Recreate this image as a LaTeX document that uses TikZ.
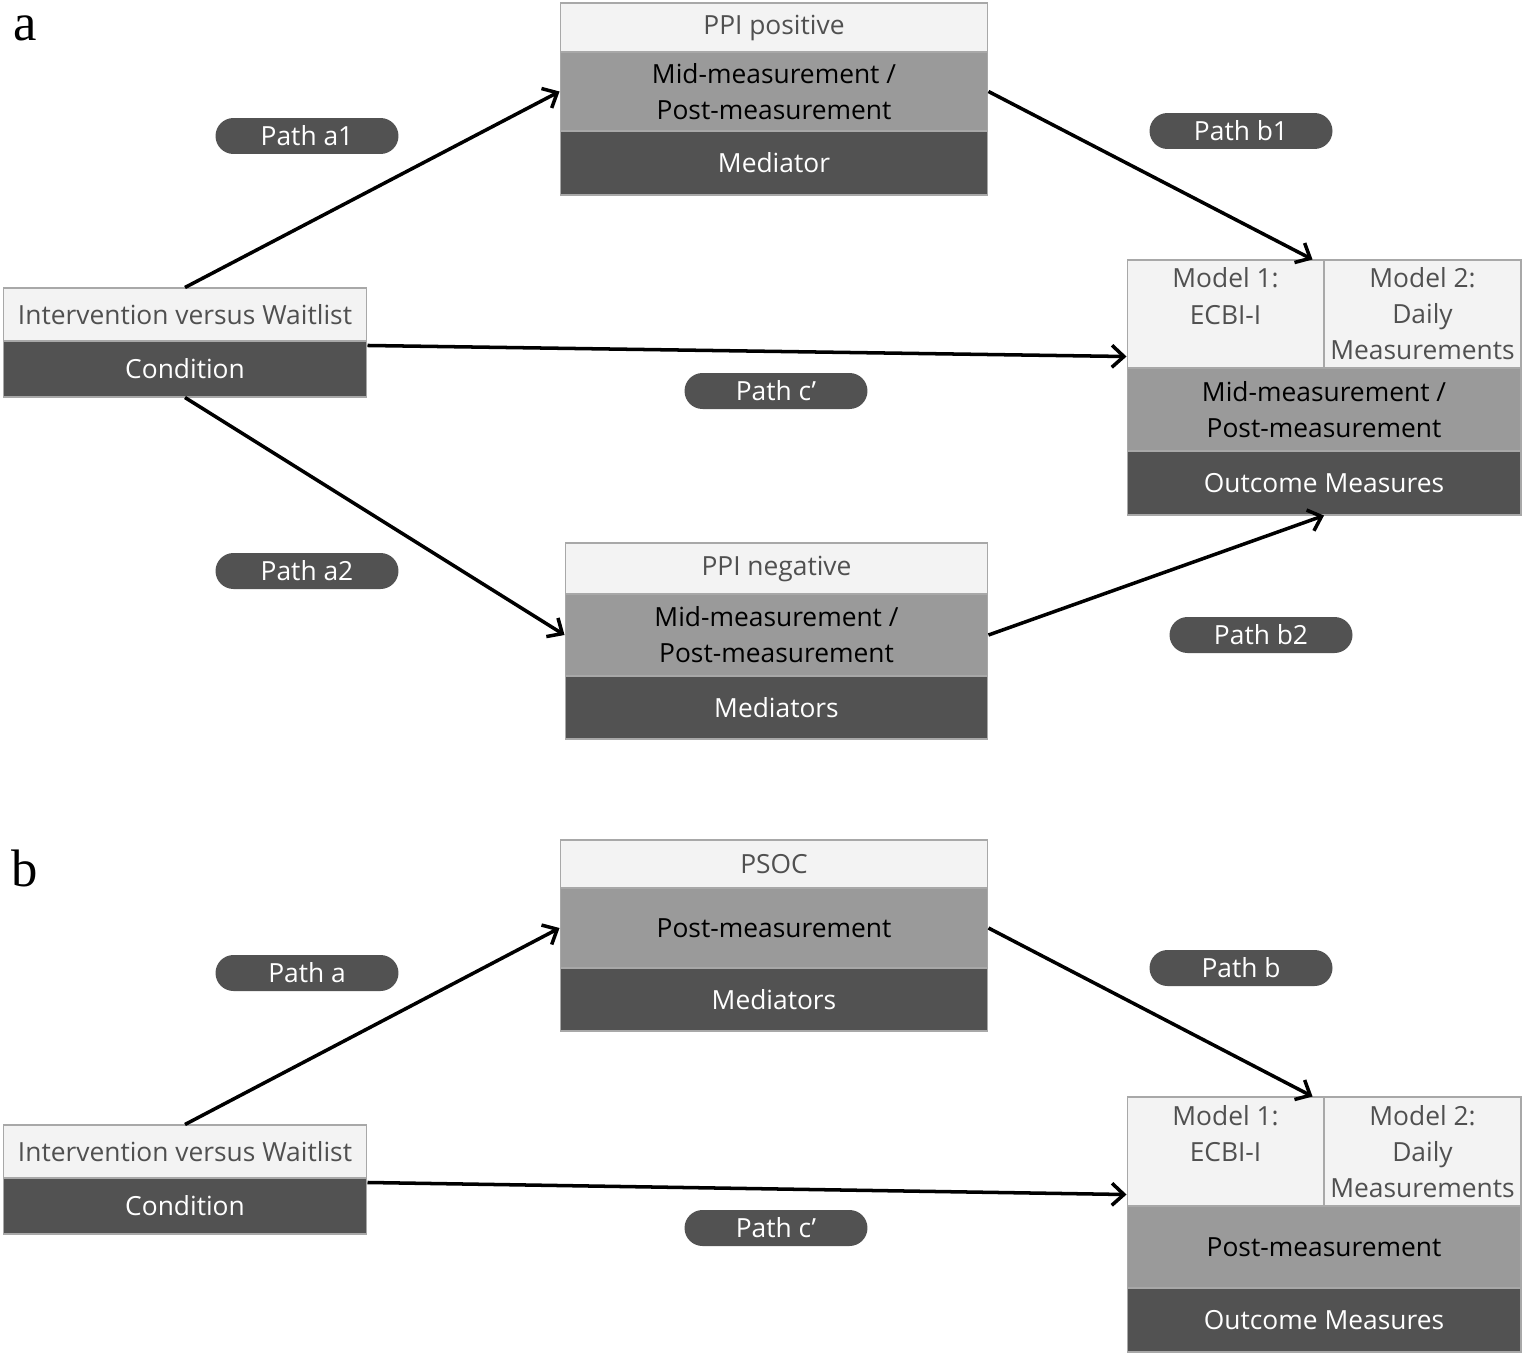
\documentclass[tikz,border=0pt]{standalone}
\usepackage{fontspec}
\setmainfont{Open Sans}
\newfontfamily\lblfont{Liberation Serif}
\usepackage{tikz}
\usetikzlibrary{arrows.meta,positioning}
\definecolor{boxlite}{HTML}{F3F3F3}
\definecolor{boxmid}{HTML}{9A9A9A}
\definecolor{boxdark}{HTML}{525252}
\definecolor{edgegray}{HTML}{A8A8A8}
\definecolor{txtgray}{HTML}{505050}
\tikzset{
  band/.style  ={rectangle,draw=edgegray,line width=0.6pt,inner sep=0pt,align=center,font=\fontsize{15}{20.5}\selectfont},
  lite/.style  ={band,fill=boxlite,text=txtgray},
  midb/.style  ={band,fill=boxmid,text=black},
  dark/.style  ={band,fill=boxdark,text=white},
  pill/.style  ={rectangle,rounded corners=0.36cm,fill=boxdark,text=white,minimum width=3.66cm,minimum height=0.72cm,inner sep=0pt,font=\fontsize{15}{17}\selectfont},
  lbl/.style   ={inner sep=0pt,font=\lblfont\fontsize{30}{32}\selectfont},
  arr/.style   ={-{Straight Barb[length=2.4mm,width=4.4mm]},line width=2pt},
}

\begin{document}
\begin{tikzpicture}[x=0.02cm,y=-0.02cm]
  \useasboundingbox (0,0) rectangle (1524,1355);
  % panel a
  \node[lbl] (la) at (25,28) {a};
  \node[lite,minimum width=7.28cm,minimum height=1.06cm] (cA)  at (185,314.5) {Intervention versus Waitlist};
  \node[dark,minimum width=7.28cm,minimum height=1.12cm] (cAd) at (185,369) {Condition};
  \node[lite,minimum width=8.56cm,minimum height=0.98cm] (mA)  at (774,27.5) {PPI positive};
  \node[midb,minimum width=8.56cm,minimum height=1.58cm] (mAm) at (774,91.5) {Mid-measurement /\\Post-measurement};
  \node[dark,minimum width=8.56cm,minimum height=1.28cm] (mAd) at (774,163) {Mediator};
  \node[lite,minimum width=3.94cm,minimum height=2.16cm] (oA1) at (1225.5,314) {Model 1:\\ECBI-I\\\phantom{M}};
  \node[lite,minimum width=3.94cm,minimum height=2.16cm] (oA2) at (1422.5,314) {Model 2:\\Daily\\Measurements};
  \node[midb,minimum width=7.88cm,minimum height=1.66cm] (oAm) at (1324,409.5) {Mid-measurement /\\Post-measurement};
  \node[dark,minimum width=7.88cm,minimum height=1.28cm] (oAd) at (1324,483) {Outcome Measures};
  \node[lite,minimum width=8.46cm,minimum height=1.02cm] (nA)  at (776.5,568.5) {PPI negative};
  \node[midb,minimum width=8.46cm,minimum height=1.64cm] (nAm) at (776.5,635) {Mid-measurement /\\Post-measurement};
  \node[dark,minimum width=8.46cm,minimum height=1.26cm] (nAd) at (776.5,707.5) {Mediators};
  \node[pill] (pa1) at (307,136) {Path a1};
  \node[pill] (pb1) at (1241,131) {Path b1};
  \node[pill] (pcA) at (776,391) {Path c’};
  \node[pill] (pa2) at (307,571) {Path a2};
  \node[pill] (pb2) at (1261,635) {Path b2};
  \draw[arr] (cA.north) -- (mAm.west);
  \draw[arr] (mAm.east) -- ([xshift=-0.24cm]oA1.north east);
  \draw[arr] ([yshift=-0.1cm]cAd.north east) -- ([yshift=0.24cm]oA1.south west);
  \draw[arr] (cAd.south) -- (nAm.west);
  \draw[arr] (nAm.east) -- (oAd.south);
  % panel b
  \node[lbl] (lb) at (25,868) {b};
  \node[lite,minimum width=7.28cm,minimum height=1.06cm] (cB)  at (185,1151.5) {Intervention versus Waitlist};
  \node[dark,minimum width=7.28cm,minimum height=1.12cm] (cBd) at (185,1206) {Condition};
  \node[lite,minimum width=8.56cm,minimum height=0.96cm] (mB)  at (774,864) {PSOC};
  \node[midb,minimum width=8.56cm,minimum height=1.60cm] (mBm) at (774,928) {Post-measurement};
  \node[dark,minimum width=8.56cm,minimum height=1.26cm] (mBd) at (774,999.5) {Mediators};
  \node[lite,minimum width=3.94cm,minimum height=2.18cm] (oB1) at (1225.5,1151.5) {Model 1:\\ECBI-I\\\phantom{M}};
  \node[lite,minimum width=3.94cm,minimum height=2.18cm] (oB2) at (1422.5,1151.5) {Model 2:\\Daily\\Measurements};
  \node[midb,minimum width=7.88cm,minimum height=1.64cm] (oBm) at (1324,1247) {Post-measurement};
  \node[dark,minimum width=7.88cm,minimum height=1.28cm] (oBd) at (1324,1320) {Outcome Measures};
  \node[pill] (pa)  at (307,973) {Path a};
  \node[pill] (pb)  at (1241,968) {Path b};
  \node[pill] (pcB) at (776,1228) {Path c’};
  \draw[arr] (cB.north) -- (mBm.west);
  \draw[arr] (mBm.east) -- ([xshift=-0.24cm]oB1.north east);
  \draw[arr] ([yshift=-0.1cm]cBd.north east) -- ([yshift=0.24cm]oB1.south west);
\end{tikzpicture}
\end{document}
